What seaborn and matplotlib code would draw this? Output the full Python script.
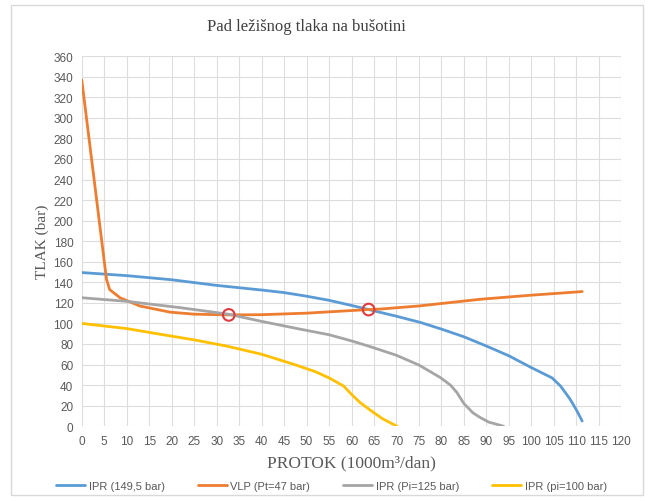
import matplotlib
matplotlib.use("Agg")
import matplotlib.pyplot as plt
import seaborn as sns
import pandas as pd
from matplotlib.patches import Rectangle

# data
ipr1_q = [0, 10, 20, 30, 40, 45, 50, 55, 60, 63.8, 70, 75.3, 80, 85, 90, 95, 100, 104.6, 106.5, 108.5, 110, 111.3]
ipr1_p = [149.5, 146.5, 142.5, 137, 132.5, 130, 126.5, 122.5, 117.5, 113.5, 107, 101, 94.5, 87, 78, 68.5, 57, 47, 39, 27, 16, 5]

vlp_q = [0, 5.5, 6.2, 8.5, 12.9, 19.6, 25, 32.7, 40, 50, 63.8, 66.4, 75, 88.6, 100, 111.3]
vlp_p = [337, 143, 133, 125, 117, 111, 109, 108.3, 108.5, 110, 113.5, 114, 117, 123.5, 127.5, 131]

ipr2_q = [0, 10, 21.8, 32.6, 40, 48.6, 55, 60, 64.1, 70, 75, 79.7, 82, 83.4, 85, 87, 88.6, 90.5, 93.8]
ipr2_p = [125, 121.5, 115.4, 109, 102, 94.4, 89, 83, 77.5, 69, 59.5, 47.5, 40, 33, 22, 13, 8.5, 4, 0]

ipr3_q = [0, 10, 17.4, 25, 32.2, 40, 47.1, 52, 55, 58.2, 60, 61.9, 64.9, 67, 70.1]
ipr3_p = [100, 95, 89.5, 84, 78, 70, 60.3, 53, 47, 39.2, 31, 23, 13.3, 7, 0]

op_q = [32.7, 63.8]
op_p = [108.3, 113.5]

labels = ["IPR (149,5 bar)", "VLP (Pt=47 bar)", "IPR (Pi=125 bar)", "IPR (pi=100 bar)"]
colors = ["#5B9BD5", "#ED7D31", "#A5A5A5", "#FFC000"]

sns.set_style("white")

fig = plt.figure(figsize=(6.54, 5.02), dpi=100)
ax = fig.add_axes([0.125, 0.149, 0.825, 0.737])

series = [(ipr1_q, ipr1_p), (vlp_q, vlp_p), (ipr2_q, ipr2_p), (ipr3_q, ipr3_p)]
for (q, p), lab, c in zip(series, labels, colors):
    df = pd.DataFrame({"q": q, "p": p})
    sns.lineplot(data=df, x="q", y="p", ax=ax, color=c, linewidth=2, label=lab, sort=False)

sns.scatterplot(x=op_q, y=op_p, ax=ax, s=70, facecolor="none", edgecolor="#E0393E",
                linewidth=1.5, zorder=5, legend=False)

ax.set_xlim(0, 120)
ax.set_ylim(0, 360)
ax.set_xticks(range(0, 121, 5))
ax.set_yticks(range(0, 361, 20))
ax.grid(True, color="#DDDDDD", linewidth=0.8)
for s in ax.spines.values():
    s.set_visible(False)
ax.tick_params(axis="both", length=0, labelsize=8.5, labelcolor="#595959", pad=6)
narrow = ["Liberation Sans Narrow", "Liberation Sans"]
for t in ax.get_xticklabels() + ax.get_yticklabels():
    t.set_family(narrow)

serif = ["Liberation Serif", "DejaVu Serif"]
ax.set_xlabel("PROTOK (1000m³/dan)", family=serif, fontsize=12.5, color="#595959", labelpad=6)
ax.set_ylabel("TLAK (bar)", family=serif, fontsize=11, color="#595959", labelpad=3)
fig.text(0.468, 0.946, "Pad ležišnog tlaka na bušotini", family=serif, fontsize=12,
         color="#404040", ha="center", va="center")

handles, labs = ax.get_legend_handles_labels()
ax.get_legend().remove()
fig.legend(handles, labs, loc="center", bbox_to_anchor=(0.507, 0.03), ncol=4, frameon=False,
           prop={"family": narrow, "size": 8}, labelcolor="#595959",
           handlelength=2.6, columnspacing=3.0, handletextpad=0.3)

fig.patches.append(Rectangle((0.017, 0.012), 0.966, 0.976, transform=fig.transFigure,
                             fill=False, edgecolor="#D9D9D9", linewidth=1))

fig.savefig("out.png", dpi=100)
